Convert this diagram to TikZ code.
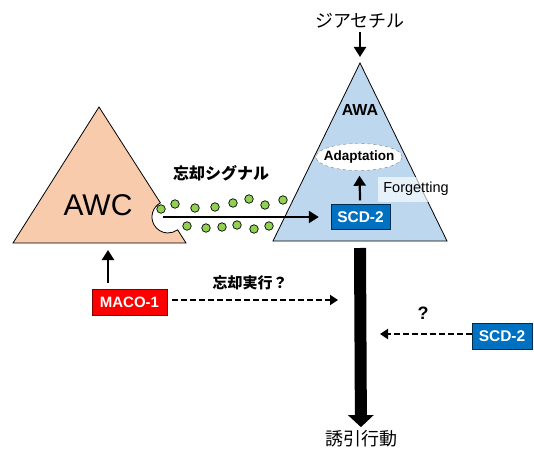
\documentclass[tikz,border=0pt]{standalone}
\usepackage{fontspec}
\setmainfont{Liberation Sans}
\newfontfamily\jp{Noto Sans CJK JP}[BoldFont={Noto Sans CJK JP Black}]
\usetikzlibrary{arrows.meta,shapes.geometric}
\definecolor{awcpeach}{HTML}{F8CBAD}
\definecolor{awablue}{HTML}{BDD7EE}
\definecolor{scdblue}{HTML}{0070C0}
\definecolor{signalgreen}{HTML}{92D050}
\tikzset{
	arr/.style={line width=2.2pt, -{Triangle[length=10pt,width=12pt]}},
	dasharr/.style={line width=2.2pt, dash pattern=on 6pt off 3pt, -{Triangle[length=8pt,width=10pt]}},
	genebox/.style={draw=black!60!scdblue, fill=scdblue, text=white, inner sep=0pt, minimum height=25pt, font=\bfseries\fontsize{15.5}{15.5}\selectfont},
	signaldot/.style={circle, draw=black, line width=0.7pt, fill=signalgreen, minimum size=8.5pt, inner sep=0pt},
	jplabel/.style={font=\jp\fontsize{18}{18}\selectfont},
	jpbold/.style={font=\jp\bfseries\fontsize{16}{16}\selectfont}
}
\begin{document}
\begin{tikzpicture}[x=1pt, y=1pt]
		\useasboundingbox (0,0) rectangle (534,-449);
		% AWC with notch
		\draw[fill=awcpeach, line width=0.8pt] (13,-243) -- (99,-107) -- (160.4,-202.9)
			arc[start angle=118.3, end angle=306.9, radius=16] -- (186,-243) -- cycle;
		\node (awc) at (98,-205) [font=\fontsize{30}{30}\selectfont] {AWC};
		% AWA
		\draw[fill=awablue, line width=0.8pt] (273,-241) -- (360,-63) -- (447,-241) -- cycle;
		\coordinate (awatop) at (360,-57);
		\coordinate (awabase) at (360,-248);
		\node (acetyl) at (360,-21) [jplabel] {ジアセチル};
		\draw[arr] (acetyl) -- (awatop);
		\node (awa) at (360,-110) [font=\bfseries\fontsize{16}{16}\selectfont] {AWA};
		\node (adapt) at (359,-157) [ellipse, draw=gray, dashed, fill=white, inner sep=-10pt, minimum width=86pt, minimum height=27pt, font=\bfseries\fontsize{13.5}{13.5}\selectfont] {Adaptation};
		\node (scd) at (360.5,-217) [genebox, minimum width=59pt] {SCD-2};
		\draw[arr, shorten <=4pt, shorten >=5pt] (scd) -- (adapt);
		\node (forget) at (416,-189) [fill=white, fill opacity=0.65, text opacity=1, minimum width=76pt, minimum height=25pt, inner sep=0pt, font=\fontsize{14.5}{14.5}\selectfont] {Forgetting};
		% signal
		\coordinate (notch) at (163,-217);
		\foreach \x/\y in {161/209, 175/204, 195/208, 215/207, 233/203, 249/199, 265/205, 283/200,
			187/226, 206/228, 222/227, 237/225, 254/229, 269/226}
			\node at (\x,-\y) [signaldot] {};
		\draw[arr, shorten >=12pt] (notch) -- (scd);
		\node (signal) at (221,-173) [jpbold] {忘却シグナル};
		% behaviour
		\node (attract) at (361,-439) [jplabel] {誘引行動};
		\draw[line width=12pt, -{Triangle[length=12pt,width=25pt]}] (awabase) -- (attract);
		\node (maco) at (129.5,-302) [genebox, fill=red, draw=black!50!red, minimum width=75pt, minimum height=26pt, font=\bfseries\fontsize{15}{15}\selectfont] {MACO-1};
		\coordinate (awcbase) at (108,-250);
		\draw[arr, shorten <=6pt] (maco.north -| awcbase) -- (awcbase);
		\coordinate (execend) at (338,-300);
		\draw[dasharr, shorten <=5pt] (maco.east |- execend) -- (execend);
		\node (exec) at (250,-283) [jpbold, font=\jp\bfseries\fontsize{15}{15}\selectfont] {忘却実行？};
		\node (scdright) at (502,-336) [genebox, minimum width=60pt, minimum height=26pt] {SCD-2};
		\coordinate (qend) at (380,-334);
		\draw[dasharr] (scdright.west |- qend) -- (qend);
		\node (query) at (423,-313) [font=\bfseries\fontsize{18}{18}\selectfont] {?};
	\end{tikzpicture}
\end{document}
